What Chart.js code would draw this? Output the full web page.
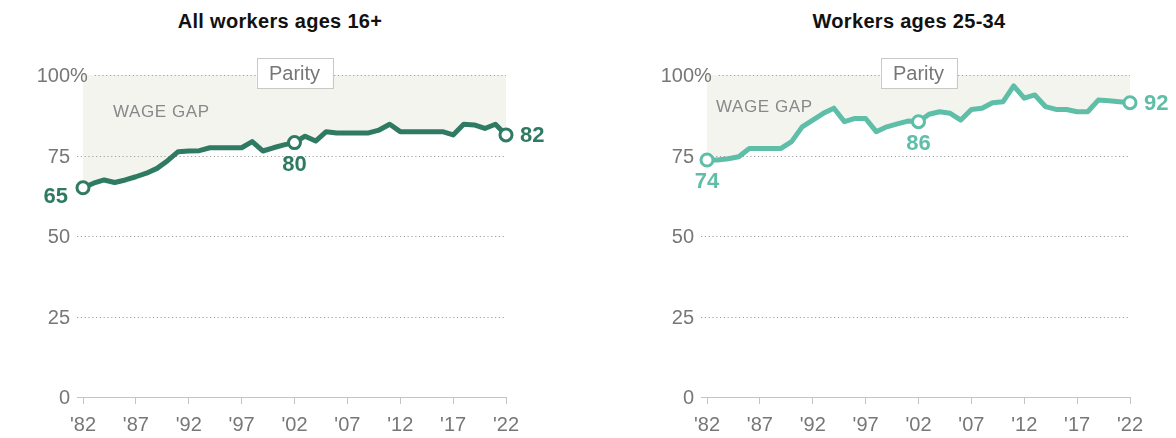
<!DOCTYPE html>
<html><head><meta charset="utf-8">
<script src="https://cdn.jsdelivr.net/npm/chart.js@4.4.1/dist/chart.umd.min.js"></script>
<style>
html,body{margin:0;padding:0;background:#fff;width:1176px;height:438px;overflow:hidden}
.panel{position:absolute;top:0;height:438px}
.title{position:absolute;top:10px;line-height:24px;font:bold 20px "Liberation Sans",Arial,sans-serif;letter-spacing:0.3px;color:#111;white-space:nowrap;transform:translateX(-50%)}
</style></head><body>
<div class="title" id="t1" style="left:280px"></div>
<div class="title" id="t2" style="left:909px"></div>
<div class="panel" style="left:0;width:588px"><canvas id="c1" width="588" height="438"></canvas></div>
<div class="panel" style="left:624px;width:552px"><canvas id="c2" width="552" height="438"></canvas></div>
<script>
// ---- data ----
const titles = ["All workers ages 16+", "Workers ages 25-34"];
const years = [1982,1983,1984,1985,1986,1987,1988,1989,1990,1991,1992,1993,1994,1995,1996,1997,1998,1999,2000,2001,2002,2003,2004,2005,2006,2007,2008,2009,2010,2011,2012,2013,2014,2015,2016,2017,2018,2019,2020,2021,2022];
const allWorkers = [65,66.4,67.4,66.6,67.4,68.4,69.5,71,73.4,76.2,76.4,76.5,77.4,77.4,77.4,77.4,79.3,76.4,77.4,78.3,79,81,79.5,82.4,82,82,82,82,82.9,84.7,82.4,82.4,82.4,82.4,82.4,81.4,84.7,84.5,83.4,84.7,81.4];
const workers25to34 = [73.6,73.6,74,74.6,77.2,77.2,77.2,77.2,79.3,83.9,86,88.1,89.7,85.5,86.5,86.5,82.4,83.9,84.8,85.7,85.5,87.8,88.6,88.1,86,89.3,89.7,91.4,91.7,96.6,92.8,93.8,90.2,89.3,89.3,88.6,88.6,92.2,92,91.7,91.4];
const xTicks = [1982,1987,1992,1997,2002,2007,2012,2017,2022];
const xTickLabels = ["'82","'87","'92","'97","'02","'07","'12","'17","'22"];
const yTicks = [0,25,50,75,100];
const yTickLabels = ["0","25","50","75","100%"];
const labeledYears = [1982,2002,2022];
const labelsAll = ["65","80","82"];
const labels2534 = ["74","86","92"];
const parityLabel = "Parity";
const gapLabel = "WAGE GAP";

document.getElementById('t1').textContent = titles[0];
document.getElementById('t2').textContent = titles[1];

const FAM = '"Liberation Sans", Arial, sans-serif';

const decor = {
  id: 'decor',
  beforeDatasetsDraw(chart, args, o) {
    const ctx = chart.ctx, ys = chart.scales.y, ca = chart.chartArea;
    ctx.save();
    ctx.font = '20px ' + FAM;
    ctx.textBaseline = 'middle';
    ctx.textAlign = 'left';
    yTicks.forEach((v, i) => {
      const y = Math.round(ys.getPixelForValue(v));
      const txt = yTickLabels[i];
      const num = txt.replace('%', '');
      const x0 = 70 - ctx.measureText(num).width;
      ctx.fillStyle = '#777';
      ctx.fillText(txt, x0, y + 1);
      const start = x0 + ctx.measureText(txt).width + 7;
      ctx.beginPath();
      if (v === 0) {
        ctx.setLineDash([]);
        ctx.strokeStyle = '#c4c4c4';
      } else {
        ctx.setLineDash([1.2, 2.6]);
        ctx.strokeStyle = '#a0a0a0';
      }
      ctx.lineWidth = 1;
      ctx.moveTo(start, y + 0.5);
      ctx.lineTo(ca.right, y + 0.5);
      ctx.stroke();
    });
    ctx.setLineDash([]);
    // Parity box
    const cx = (ca.left + ca.right) / 2, cy = ys.getPixelForValue(100) - 2;
    ctx.fillStyle = '#fff';
    ctx.fillRect(cx - 38, cy - 15, 76, 30);
    ctx.strokeStyle = '#c8c8c8';
    ctx.strokeRect(Math.round(cx - 38) + 0.5, Math.round(cy - 15) + 0.5, 76, 30);
    ctx.fillStyle = '#777';
    ctx.textAlign = 'center';
    ctx.fillText(parityLabel, cx, cy + 1);
    // WAGE GAP
    ctx.font = '17px ' + FAM;
    ctx.fillStyle = '#888';
    ctx.textAlign = 'left';
    if ('letterSpacing' in ctx) ctx.letterSpacing = '0.6px';
    ctx.fillText(gapLabel, ca.left + o.gapDx, o.gapY);
    ctx.restore();
  },
  afterDatasetsDraw(chart, args, o) {
    const ctx = chart.ctx;
    const meta = chart.getDatasetMeta(0);
    ctx.save();
    ctx.font = 'bold 22px ' + FAM;
    ctx.fillStyle = o.color;
    ctx.textBaseline = 'middle';
    labeledYears.forEach((yr, k) => {
      const idx = years.indexOf(yr);
      const pt = meta.data[idx];
      const pos = o.place[k];
      let x = pt.x, y = pt.y;
      if (pos === 'left') { ctx.textAlign = 'right'; x -= 15; y += 9; }
      else if (pos === 'below') { ctx.textAlign = 'center'; y += 22; }
      else { ctx.textAlign = 'left'; x += 14; y += 1; }
      ctx.fillText(o.labels[k], x, y);
    });
    ctx.restore();
  }
};

function makeChart(id, values, color, labels, place, gapDx, gapY, width) {
  return new Chart(document.getElementById(id), {
    type: 'line',
    data: {
      datasets: [{
        data: years.map((yr, i) => ({ x: yr, y: values[i] })),
        borderColor: color,
        borderWidth: 5,
        borderJoinStyle: 'round',
        borderCapStyle: 'round',
        tension: 0,
        clip: false,
        fill: { value: 100 },
        backgroundColor: '#f4f4ef',
        pointRadius: c => labeledYears.includes(years[c.dataIndex]) ? 6 : 0,
        pointBackgroundColor: '#fff',
        pointBorderColor: color,
        pointBorderWidth: 3,
        pointHoverRadius: 0
      }]
    },
    options: {
      responsive: false,
      animation: false,
      events: [],
      layout: { padding: { left: 83, right: width - 506, top: 75, bottom: 0 } },
      plugins: {
        legend: { display: false },
        tooltip: { enabled: false },
        filler: { drawTime: 'beforeDraw' },
        decor: { color, labels, place, gapDx, gapY }
      },
      scales: {
        x: {
          type: 'linear', min: 1982, max: 2022,
          afterBuildTicks: s => { s.ticks = xTicks.map(v => ({ value: v })); },
          afterFit: s => { s.height = 41; },
          ticks: {
            callback: (v, i) => xTickLabels[i],
            color: '#777', font: { size: 20, family: FAM },
            padding: 9, maxRotation: 0, autoSkip: false
          },
          grid: { drawOnChartArea: false, drawTicks: true, tickLength: 7, color: '#c4c4c4' },
          border: { display: false }
        },
        y: { display: false, min: 0, max: 100 }
      }
    },
    plugins: [decor]
  });
}

makeChart('c1', allWorkers, '#2e7a62', labelsAll, ['left', 'below', 'right'], 30, 112, 588);
makeChart('c2', workers25to34, '#5ebea8', labels2534, ['below', 'below', 'right'], 9, 107, 552);
</script>
</body></html>
